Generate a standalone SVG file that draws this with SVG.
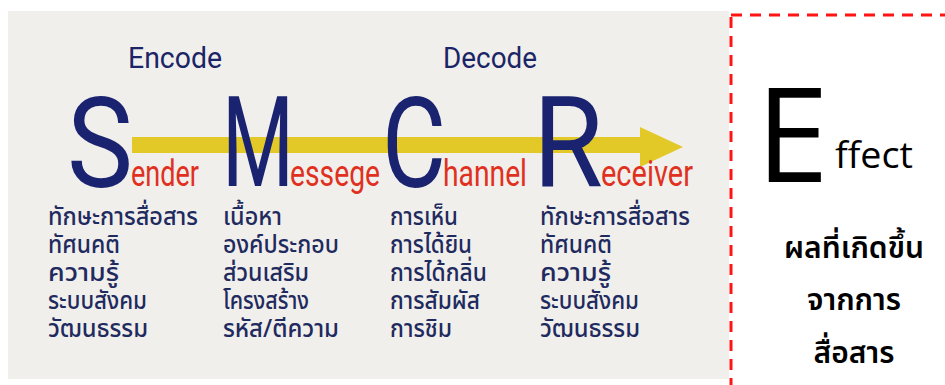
<svg xmlns="http://www.w3.org/2000/svg" width="945" height="385" viewBox="0 0 945 385">
<style>
.big{font-family:Roboto,"DejaVu Sans",sans-serif;fill:#1a2370;font-size:127px;font-weight:400;}
.sub{font-family:Roboto,"DejaVu Sans",sans-serif;fill:#e0301e;font-size:37px;}
.code{font-family:Roboto,"DejaVu Sans",sans-serif;fill:#1b2466;font-size:29px;}
.th{font-family:"Noto Sans Thai","Noto Sans","DejaVu Sans",sans-serif;fill:#1f2a5e;font-size:25px;font-weight:500;}
.eff{font-family:"Open Sans","DejaVu Sans",sans-serif;fill:#000;}
.effth{font-family:"Noto Sans Thai","Noto Sans","DejaVu Sans",sans-serif;fill:#000;font-size:30px;font-weight:600;text-anchor:middle;}
</style>
<rect x="0" y="0" width="945" height="385" fill="#ffffff"/>
<rect x="8" y="11" width="721" height="368" fill="#f0efec"/>
<rect x="731" y="15" width="300" height="400" fill="none" stroke="#ff1414" stroke-width="3" stroke-dasharray="11 8"/>
<g id="connectors">
<polygon points="132,137 640,137 640,127 683,147 640,167 640,153 132,153" fill="#e2c928"/>
</g>
<g id="encode"><text class="code" x="128" y="68" textLength="94" lengthAdjust="spacingAndGlyphs">Encode</text></g>
<g id="decode"><text class="code" x="443" y="68" textLength="94" lengthAdjust="spacingAndGlyphs">Decode</text></g>
<g id="sender">
<text class="big" x="67" y="187" textLength="66" lengthAdjust="spacingAndGlyphs">S</text>
<text class="sub" x="131" y="186" textLength="68" lengthAdjust="spacingAndGlyphs">ender</text>
<text class="th" x="48" y="225" textLength="150" lengthAdjust="spacingAndGlyphs">ทักษะการสื่อสาร</text>
<text class="th" x="48" y="253" textLength="72" lengthAdjust="spacingAndGlyphs">ทัศนคติ</text>
<text class="th" x="48" y="281" textLength="71" lengthAdjust="spacingAndGlyphs">ความรู้</text>
<text class="th" x="48" y="309" textLength="99" lengthAdjust="spacingAndGlyphs">ระบบสังคม</text>
<text class="th" x="48" y="337" textLength="100" lengthAdjust="spacingAndGlyphs">วัฒนธรรม</text>
</g>
<g id="message">
<text class="big" x="222" y="186" textLength="72" lengthAdjust="spacingAndGlyphs">M</text>
<text class="sub" x="290" y="186" textLength="90" lengthAdjust="spacingAndGlyphs">essege</text>
<text class="th" x="223" y="225" textLength="59" lengthAdjust="spacingAndGlyphs">เนื้อหา</text>
<text class="th" x="223" y="253" textLength="116" lengthAdjust="spacingAndGlyphs">องค์ประกอบ</text>
<text class="th" x="223" y="281" textLength="86" lengthAdjust="spacingAndGlyphs">ส่วนเสริม</text>
<text class="th" x="223" y="309" textLength="86" lengthAdjust="spacingAndGlyphs">โครงสร้าง</text>
<text class="th" x="223" y="337" textLength="116" lengthAdjust="spacingAndGlyphs">รหัส/ตีความ</text>
</g>
<g id="channel">
<text class="big" x="382" y="187" textLength="64" lengthAdjust="spacingAndGlyphs">C</text>
<text class="sub" x="443" y="186" textLength="84" lengthAdjust="spacingAndGlyphs">hannel</text>
<text class="th" x="390" y="225" textLength="68" lengthAdjust="spacingAndGlyphs">การเห็น</text>
<text class="th" x="390" y="253" textLength="82" lengthAdjust="spacingAndGlyphs">การได้ยิน</text>
<text class="th" x="390" y="281" textLength="97" lengthAdjust="spacingAndGlyphs">การได้กลิ่น</text>
<text class="th" x="390" y="309" textLength="90" lengthAdjust="spacingAndGlyphs">การสัมผัส</text>
<text class="th" x="390" y="337" textLength="62" lengthAdjust="spacingAndGlyphs">การชิม</text>
</g>
<g id="receiver">
<text class="big" x="533" y="186" textLength="70" lengthAdjust="spacingAndGlyphs">R</text>
<text class="sub" x="601" y="186" textLength="92" lengthAdjust="spacingAndGlyphs">eceiver</text>
<text class="th" x="540" y="225" textLength="150" lengthAdjust="spacingAndGlyphs">ทักษะการสื่อสาร</text>
<text class="th" x="540" y="253" textLength="72" lengthAdjust="spacingAndGlyphs">ทัศนคติ</text>
<text class="th" x="540" y="281" textLength="71" lengthAdjust="spacingAndGlyphs">ความรู้</text>
<text class="th" x="540" y="309" textLength="99" lengthAdjust="spacingAndGlyphs">ระบบสังคม</text>
<text class="th" x="540" y="337" textLength="100" lengthAdjust="spacingAndGlyphs">วัฒนธรรม</text>
</g>
<g id="effect">
<text class="eff" x="756" y="182" font-size="131" font-weight="500">E</text>
<text class="eff" x="835" y="168" font-size="37" font-weight="500" textLength="78" lengthAdjust="spacingAndGlyphs">ffect</text>
<text class="effth" x="854" y="258">ผลที่เกิดขึ้น</text>
<text class="effth" x="854" y="310">จากการ</text>
<text class="effth" x="854" y="363">สื่อสาร</text>
</g>
</svg>
